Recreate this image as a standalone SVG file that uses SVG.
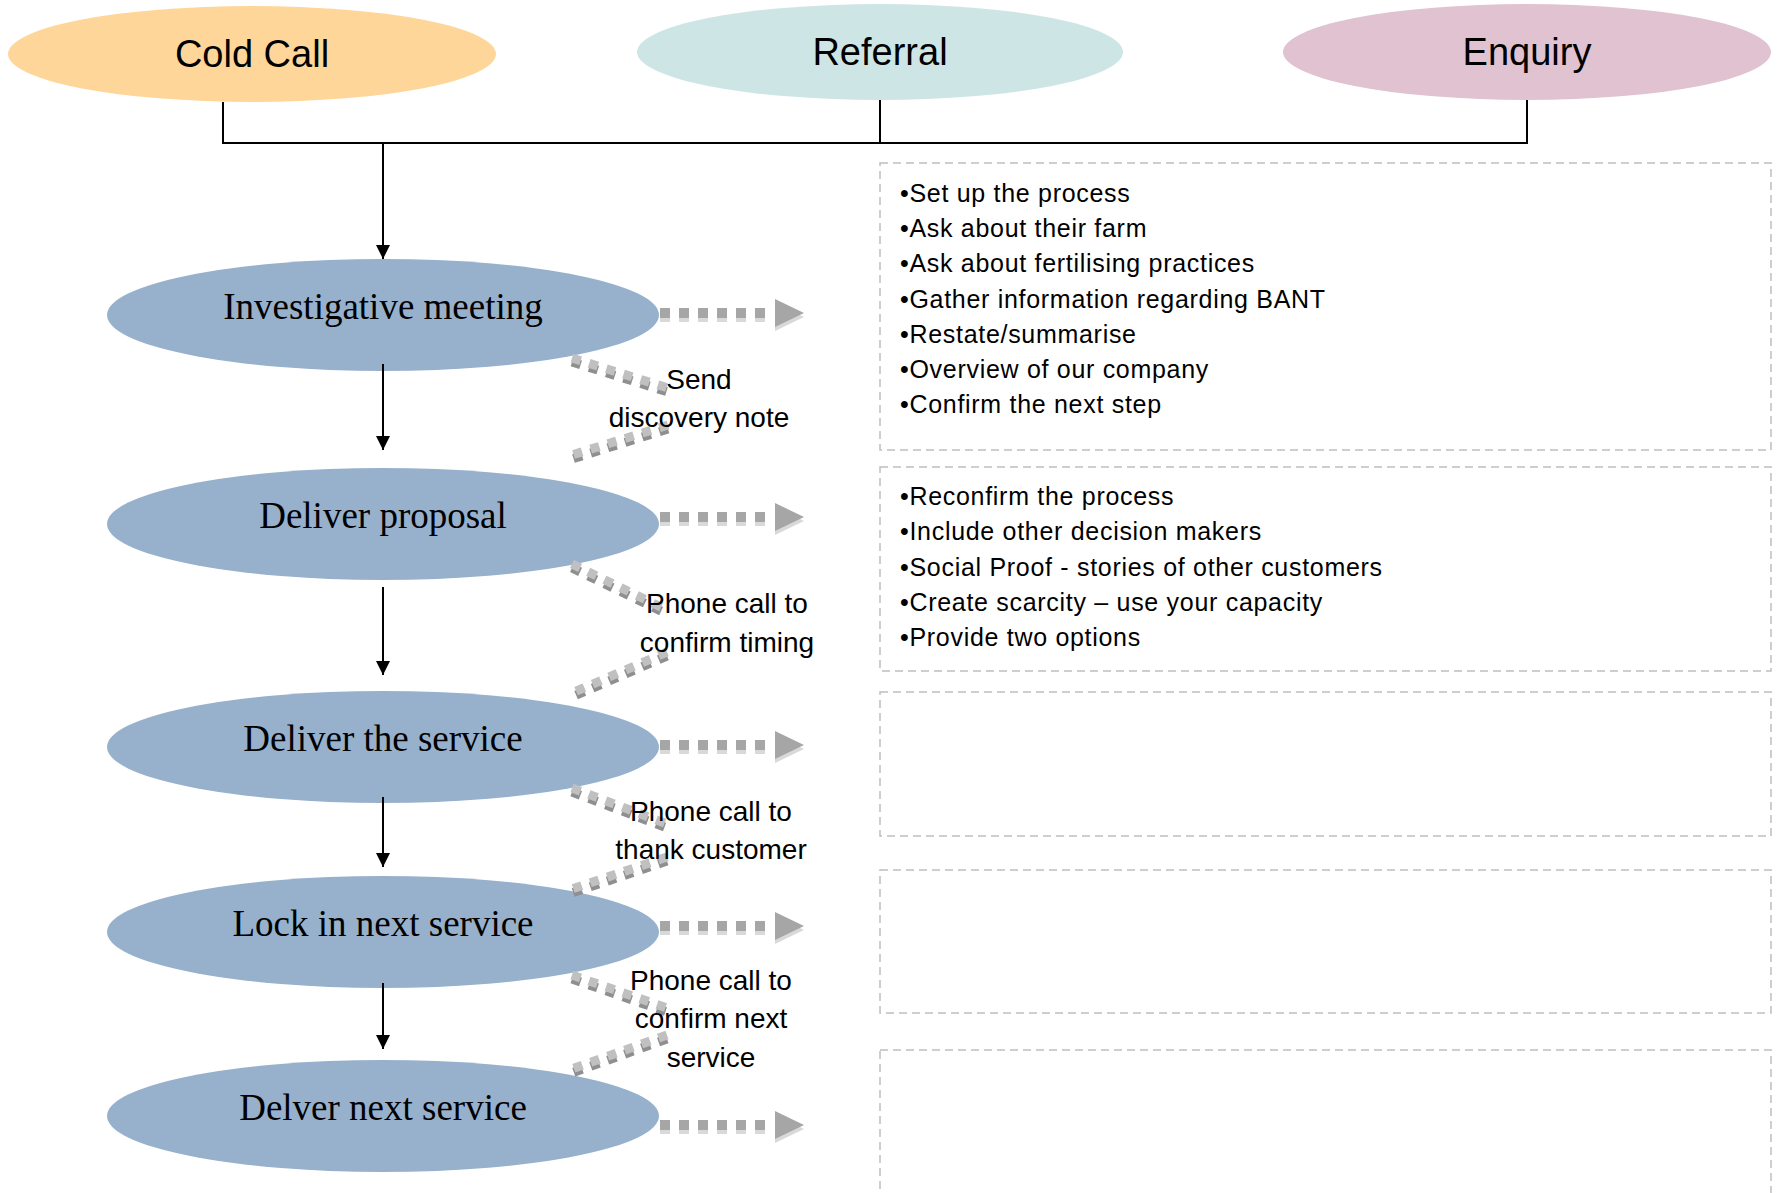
<svg xmlns="http://www.w3.org/2000/svg" width="1778" height="1193" viewBox="0 0 1778 1193">
<defs>
<style>
.src{font-family:"Liberation Sans",Arial,sans-serif;font-size:38px;fill:#000;text-anchor:middle}
.stage{fill:#97B1CC}
.stxt{font-family:"Liberation Serif","Times New Roman",serif;font-size:37px;fill:#000;text-anchor:middle}
.box{fill:none;stroke:#BFBFBF;stroke-width:1.5;stroke-dasharray:8 5}
.btxt{font-family:"Liberation Sans",Arial,sans-serif;font-size:25px;letter-spacing:0.7px;fill:#000}
.lbl{font-family:"Liberation Sans",Arial,sans-serif;font-size:28px;fill:#000;text-anchor:middle}
.conn{fill:none;stroke:#000;stroke-width:2}
.hd{fill:none;stroke:#A6A6A6;stroke-width:10;stroke-dasharray:10 9}
.hds{fill:none;stroke:#D9D9D9;stroke-width:10;stroke-dasharray:10 9}
.dg{fill:none;stroke:#C0C0C0;stroke-width:9;stroke-dasharray:9 9}
.dgs{fill:none;stroke:#8F8F8F;stroke-width:9;stroke-dasharray:9 9}
</style>
<marker id="ah" viewBox="0 0 10 10" refX="10" refY="5" markerWidth="7" markerHeight="7" markerUnits="strokeWidth" orient="auto">
<path d="M0,0 L10,5 L0,10 z" fill="#000"/>
</marker>
<g id="harrow">
<line class="hds" x1="660" y1="4" x2="766" y2="4"/>
<polygon points="775,-10 804,4 775,18" fill="#D9D9D9"/>
<line class="hd" x1="660" y1="0" x2="766" y2="0"/>
<polygon points="775,-14 804,0 775,14" fill="#A6A6A6"/>
</g>
</defs>

<g id="sources">
<g id="cold-call"><ellipse cx="252" cy="54" rx="244" ry="48" fill="#FED699"/><text class="src" x="252" y="67">Cold Call</text></g>
<g id="referral"><ellipse cx="880" cy="52" rx="243" ry="48" fill="#CDE6E5"/><text class="src" x="880" y="65">Referral</text></g>
<g id="enquiry"><ellipse cx="1527" cy="52" rx="244" ry="48" fill="#E0C2D0"/><text class="src" x="1527" y="65">Enquiry</text></g>
</g>

<g id="boxes">
<g id="box1"><rect class="box" x="880" y="163" width="891" height="287"/>
<text class="btxt" x="900" y="202">•Set up the process</text>
<text class="btxt" x="900" y="237">•Ask about their farm</text>
<text class="btxt" x="900" y="272">•Ask about fertilising practices</text>
<text class="btxt" x="900" y="308">•Gather information regarding BANT</text>
<text class="btxt" x="900" y="343">•Restate/summarise</text>
<text class="btxt" x="900" y="378">•Overview of our company</text>
<text class="btxt" x="900" y="413">•Confirm the next step</text>
</g>
<g id="box2"><rect class="box" x="880" y="467" width="891" height="204"/>
<text class="btxt" x="900" y="505">•Reconfirm the process</text>
<text class="btxt" x="900" y="540">•Include other decision makers</text>
<text class="btxt" x="900" y="576">•Social Proof - stories of other customers</text>
<text class="btxt" x="900" y="611">•Create scarcity – use your capacity</text>
<text class="btxt" x="900" y="646">•Provide two options</text>
</g>
<g id="box3"><rect class="box" x="880" y="692" width="891" height="144"/></g>
<g id="box4"><rect class="box" x="880" y="870" width="891" height="143"/></g>
<g id="box5"><rect class="box" x="880" y="1050" width="891" height="160"/></g>
</g>

<g id="stages">
<g id="investigative-meeting"><ellipse class="stage" cx="383" cy="315" rx="276" ry="56"/><text class="stxt" x="383" y="319">Investigative meeting</text></g>
<g id="deliver-proposal"><ellipse class="stage" cx="383" cy="524" rx="276" ry="56"/><text class="stxt" x="383" y="528">Deliver proposal</text></g>
<g id="deliver-service"><ellipse class="stage" cx="383" cy="747" rx="276" ry="56"/><text class="stxt" x="383" y="751">Deliver the service</text></g>
<g id="lock-in"><ellipse class="stage" cx="383" cy="932" rx="276" ry="56"/><text class="stxt" x="383" y="936">Lock in next service</text></g>
<g id="delver-next"><ellipse class="stage" cx="383" cy="1116" rx="276" ry="56"/><text class="stxt" x="383" y="1120">Delver next service</text></g>
</g>

<g id="connectors">
<polyline class="conn" points="223,102 223,143 1527,143 1527,100"/>
<line class="conn" x1="880" y1="100" x2="880" y2="143"/>
<line class="conn" x1="383" y1="143" x2="383" y2="259" marker-end="url(#ah)"/>
<line class="conn" x1="383" y1="364" x2="383" y2="450" marker-end="url(#ah)"/>
<line class="conn" x1="383" y1="587" x2="383" y2="675" marker-end="url(#ah)"/>
<line class="conn" x1="383" y1="797" x2="383" y2="867" marker-end="url(#ah)"/>
<line class="conn" x1="383" y1="983" x2="383" y2="1049" marker-end="url(#ah)"/>

<use href="#harrow" transform="translate(0,313)"/>
<use href="#harrow" transform="translate(0,517)"/>
<use href="#harrow" transform="translate(0,745)"/>
<use href="#harrow" transform="translate(0,926)"/>
<use href="#harrow" transform="translate(0,1125)"/>

<g id="dotted-links">
<line class="dgs" x1="572" y1="362" x2="668" y2="392"/>
<line class="dg" x1="572" y1="358" x2="668" y2="388"/>
<line class="dgs" x1="668" y1="429" x2="572" y2="459"/>
<line class="dg" x1="668" y1="425" x2="572" y2="455"/>

<line class="dgs" x1="572" y1="568" x2="665" y2="613"/>
<line class="dg" x1="572" y1="564" x2="665" y2="609"/>
<line class="dgs" x1="667" y1="656" x2="572" y2="697"/>
<line class="dg" x1="667" y1="652" x2="572" y2="693"/>

<line class="dgs" x1="572" y1="792" x2="667" y2="828"/>
<line class="dg" x1="572" y1="788" x2="667" y2="824"/>
<line class="dgs" x1="667" y1="861" x2="572" y2="893"/>
<line class="dg" x1="667" y1="857" x2="572" y2="889"/>

<line class="dgs" x1="572" y1="979" x2="667" y2="1012"/>
<line class="dg" x1="572" y1="975" x2="667" y2="1008"/>
<line class="dgs" x1="667" y1="1039" x2="572" y2="1073"/>
<line class="dg" x1="667" y1="1035" x2="572" y2="1069"/>
</g>
</g>

<g id="labels">
<text class="lbl" x="699" y="389">Send</text>
<text class="lbl" x="699" y="427">discovery note</text>
<text class="lbl" x="727" y="613">Phone call to</text>
<text class="lbl" x="727" y="652">confirm timing</text>
<text class="lbl" x="711" y="821">Phone call to</text>
<text class="lbl" x="711" y="859">thank customer</text>
<text class="lbl" x="711" y="990">Phone call to</text>
<text class="lbl" x="711" y="1028">confirm next</text>
<text class="lbl" x="711" y="1067">service</text>
</g>
</svg>
